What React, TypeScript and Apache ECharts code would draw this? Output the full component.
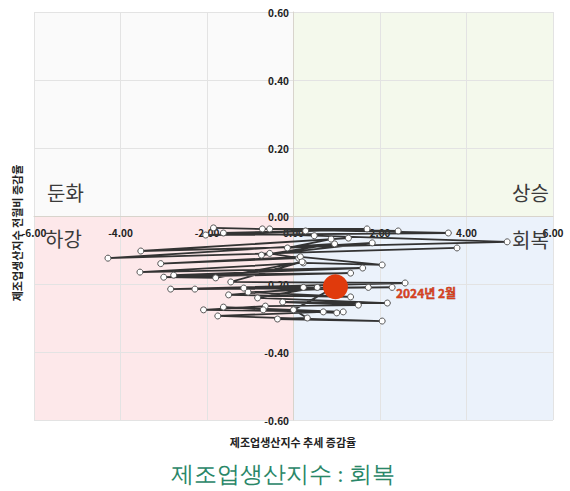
import React, { useEffect, useRef } from "react";
import * as echarts from "echarts";

// Trend growth rate (x) and month-on-month growth rate (y), in time order
const trendX = [
  -1.85, 3.58, -2.03, 1.7, -0.72, 2.42, -0.55, 0.28, -1.62, 0.48,
  4.94, -3.53, 1.27, 0.87, -0.14, 1.82, -0.74, 0.95, -4.29, 3.78,
  -0.55, 0.12, -3.07, 0.16, 2.05, 0.23, -3.55, 1.6, -2.77, 1.32,
  -3.0, -1.8, 0.2, -1.45, 2.58, -2.84, 0.23, -2.28, 2.28, -1.15,
  1.73, -1.05, 1.32, -1.5, 0.55, -0.83, 2.17, -0.25, 1.5, -0.65,
  -2.08, 1.15, -1.62, 1.0, -0.7, 0.69, -1.75, 2.05, -0.37, 0.32,
  0.0, 0.97,
];
const momY = [
  -0.035, -0.05, -0.056, -0.038, -0.038, -0.044, -0.038, -0.044, -0.05, -0.058,
  -0.076, -0.103, -0.065, -0.068, -0.094, -0.079, -0.115, -0.082, -0.124, -0.094,
  -0.11, -0.124, -0.14, -0.12, -0.144, -0.138, -0.165, -0.153, -0.174, -0.168,
  -0.18, -0.182, -0.135, -0.194, -0.197, -0.215, -0.21, -0.215, -0.21, -0.212,
  -0.21, -0.224, -0.238, -0.232, -0.21, -0.241, -0.256, -0.253, -0.262, -0.265,
  -0.276, -0.282, -0.268, -0.285, -0.276, -0.282, -0.294, -0.309, -0.303, -0.3,
  -0.276, -0.208,
];
const lastLabel = "2024년 2월";
const quadrantNames = ["둔화", "상승", "하강", "회복"];
const xAxisName = "제조업생산지수 추세 증감율";
const yAxisName = "제조업생산지수 전월비 증감율";
const chartTitle = "제조업생산지수 : 회복";
const xRange = [-6, 6];
const yRange = [-0.6, 0.6];

const FONT = "'Noto Sans CJK KR', 'Noto Sans', sans-serif";

export default function App() {
  const ref = useRef<HTMLDivElement>(null);
  useEffect(() => {
    document.body.style.margin = "0";
    const chart = echarts.init(ref.current!, null, { renderer: "svg" });
    const pts = trendX.map((x, i) => [x, momY[i]]);
    const last = pts[pts.length - 1];
    const labelStyle = {
      fontFamily: FONT,
      fontSize: 10,
      fontWeight: "bold" as const,
      color: "#222",
    };
    chart.setOption({
      animation: false,
      textStyle: { fontFamily: FONT },
      grid: { left: 34, right: 17, top: 12, bottom: 71, containLabel: false },
      xAxis: {
        type: "value",
        min: xRange[0],
        max: xRange[1],
        interval: 2,
        z: 3,
        position: "bottom",
        offset: -204,
        axisLine: { onZero: false, lineStyle: { color: "#d8d4cc", width: 1 } },
        axisTick: { show: false },
        axisLabel: {
          ...labelStyle,
          margin: 11,
          formatter: (v: number) => v.toFixed(2),
        },
        splitLine: { show: true, lineStyle: { color: "#e3e3e3", width: 1 } },
      },
      yAxis: {
        type: "value",
        min: yRange[0],
        max: yRange[1],
        interval: 0.2,
        z: 3,
        position: "left",
        offset: -259,
        axisLine: { onZero: false, lineStyle: { color: "#d8d4cc", width: 1 } },
        axisTick: { show: false },
        axisLabel: {
          ...labelStyle,
          margin: 4,
          formatter: (v: number) => v.toFixed(2),
        },
        splitLine: { show: true, lineStyle: { color: "#e3e3e3", width: 1 } },
      },
      graphic: [
        {
          type: "text",
          left: 47,
          top: 182,
          z: 10,
          style: { text: quadrantNames[0], fontSize: 20, fontFamily: FONT, fill: "#3a3a3a" },
        },
        {
          type: "text",
          left: 512,
          top: 182,
          z: 10,
          style: { text: quadrantNames[1], fontSize: 20, fontFamily: FONT, fill: "#3a3a3a" },
        },
        {
          type: "text",
          left: 45,
          top: 228,
          z: 10,
          style: { text: quadrantNames[2], fontSize: 20, fontFamily: FONT, fill: "#3a3a3a" },
        },
        {
          type: "text",
          left: 512,
          top: 229,
          z: 10,
          style: { text: quadrantNames[3], fontSize: 20, fontFamily: FONT, fill: "#3a3a3a" },
        },
        {
          type: "text",
          x: 293,
          y: 442,
          z: 10,
          style: {
            text: xAxisName,
            fontSize: 11,
            fontWeight: "bold",
            fontFamily: FONT,
            fill: "#222",
            align: "center",
            verticalAlign: "middle",
          },
        },
        {
          type: "text",
          x: 17,
          y: 233,
          rotation: Math.PI / 2,
          z: 10,
          style: {
            text: yAxisName,
            fontSize: 11,
            fontWeight: "bold",
            fontFamily: FONT,
            fill: "#222",
            align: "center",
            verticalAlign: "middle",
          },
        },
        {
          type: "text",
          x: 283,
          y: 474,
          z: 10,
          style: {
            text: chartTitle,
            fontSize: 23,
            fontFamily: "serif",
            fill: "#2a8768",
            align: "center",
            verticalAlign: "middle",
          },
        },
      ],
      series: [
        {
          type: "line",
          z: 1,
          data: [],
          silent: true,
          markArea: {
            silent: true,
            data: [
              [{ coord: [xRange[0], 0], itemStyle: { color: "#fafafa" } }, { coord: [0, yRange[1]] }],
              [{ coord: [0, 0], itemStyle: { color: "#f4f9ec" } }, { coord: [xRange[1], yRange[1]] }],
              [{ coord: [xRange[0], yRange[0]], itemStyle: { color: "#fde8ea" } }, { coord: [0, 0] }],
              [{ coord: [0, yRange[0]], itemStyle: { color: "#ebf2fb" } }, { coord: [xRange[1], 0] }],
            ],
          },
        },
        {
          type: "line",
          z: 5,
          data: pts,
          symbol: "circle",
          symbolSize: 6,
          showAllSymbol: true,
          lineStyle: { color: "#333", width: 1.8 },
          itemStyle: { color: "#ffffff", borderColor: "#555", borderWidth: 1 },
        },
        {
          type: "scatter",
          z: 6,
          data: [last],
          symbolSize: 25,
          itemStyle: { color: "#e03a0c", opacity: 1 },
          label: {
            show: true,
            position: "right",
            distance: 48,
            offset: [0, 6],
            formatter: () => lastLabel,
            fontFamily: FONT,
            fontSize: 12,
            fontWeight: "bold",
            color: "#d9401e",
            textBorderColor: "#9a2e12",
            textBorderWidth: 0.4,
          },
        },
      ],
    });
    return () => chart.dispose();
  }, []);
  return <div ref={ref} style={{ width: 570, height: 491 }} />;
}
